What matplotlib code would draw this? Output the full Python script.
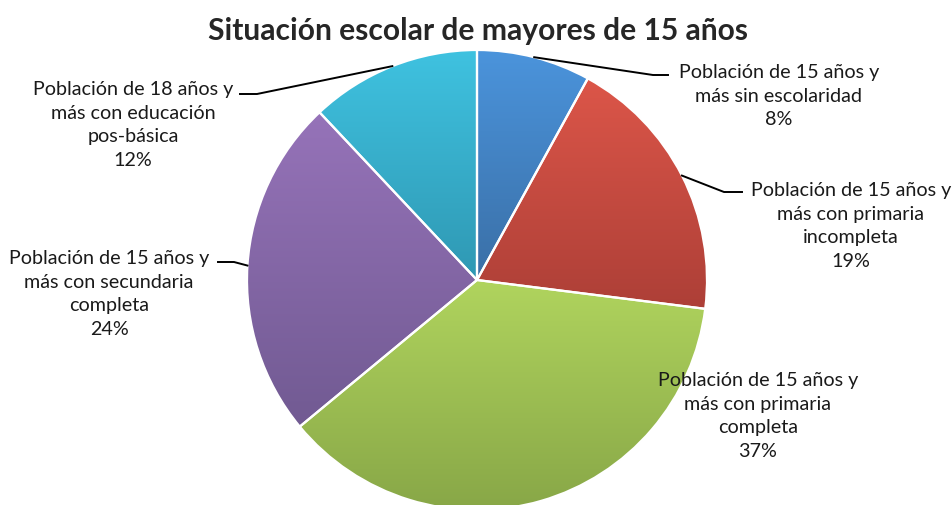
import numpy as np
import matplotlib
matplotlib.use("Agg")
import matplotlib.pyplot as plt
from matplotlib.colors import LinearSegmentedColormap

# data
categories = [
    "Población de 15 años y\nmás sin escolaridad",
    "Población de 15 años y\nmás con primaria\nincompleta",
    "Población de 15 años y\nmás con primaria\ncompleta",
    "Población de 15 años y\nmás con secundaria\ncompleta",
    "Población de 18 años y\nmás con educación\npos-básica",
]
shares = [8, 19, 37, 24, 12]

# styling (gradient top -> bottom for each slice)
top_colors = ["#4b94dc", "#dc5649", "#b0d45e", "#9673b9", "#3fc2e0"]
bottom_colors = ["#3a6fa6", "#ad3f37", "#88a747", "#715a92", "#2f98b3"]

W, H = 953, 506
CX, CY, R = 477, H - 281, 230

# label block centres (pixels, y from top) and leader elbows
label_pos = [(779, 96), (851, 226), (758, 416), (109, 294), (133, 125)]
elbows = [((653, 76), (668, 76)), ((724, 193), (742, 193)), None,
          ((234, 263), (218, 263)), ((257, 95), (240, 95))]

plt.rcParams["font.family"] = ["Lato", "DejaVu Sans"]

fig = plt.figure(figsize=(W / 100, H / 100), dpi=100)
ax = fig.add_axes([0, 0, 1, 1])
ax.axis("off")

wedges, _ = ax.pie(shares, startangle=90, counterclock=False, center=(CX, CY),
                   radius=R, wedgeprops=dict(edgecolor="white", linewidth=1.6))

for w, c0, c1 in zip(wedges, top_colors, bottom_colors):
    ext = w.get_path().get_extents()
    cmap = LinearSegmentedColormap.from_list("g", [c1, c0])
    grad = np.linspace(0, 1, 256).reshape(-1, 1)
    im = ax.imshow(grad, cmap=cmap, origin="lower", aspect="auto",
                   extent=(ext.x0, ext.x1, ext.y0, ext.y1), zorder=1)
    im.set_clip_path(w)
    w.set_facecolor("none")
    w.set_zorder(2)

# labels and leader lines
for i, w in enumerate(wedges):
    mid = np.deg2rad((w.theta1 + w.theta2) / 2)
    lx, ly = label_pos[i]
    ax.text(lx, H - ly, f"{categories[i]}\n{shares[i]}%", ha="center", va="center",
            fontsize=14.2, color="#1a1a1a", linespacing=1.48, zorder=4)
    if elbows[i] is not None:
        sx, sy = CX + R * np.cos(mid), CY + R * np.sin(mid)
        (ex, ey), (tx, ty) = elbows[i]
        ax.plot([sx, ex, tx], [sy, H - ey, H - ty], color="black", lw=1.4, zorder=3)

ax.text(W / 2 + 2, H - 31, "Situación escolar de mayores de 15 años", ha="center",
        va="center", fontsize=21.6, fontweight="bold", color="#262626")

ax.set_xlim(0, W)
ax.set_ylim(0, H)
ax.set_aspect("auto")
fig.savefig("out.png", dpi=100)
